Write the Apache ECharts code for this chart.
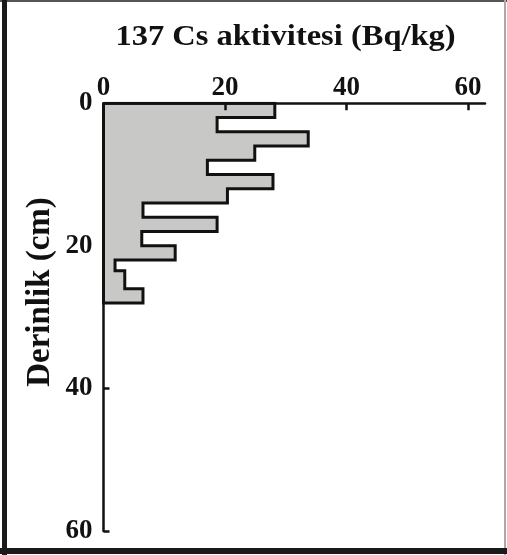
<!DOCTYPE html>
<html>
<head>
<meta charset="utf-8">
<script src="https://cdn.jsdelivr.net/npm/echarts@6/dist/echarts.min.js"></script>
<style>
html,body{margin:0;padding:0;background:#fff;}
#chart{width:507px;height:555px;}
</style>
</head>
<body>
<div id="chart"></div>
<script>
// Depth intervals (cm) and 137Cs activity (Bq/kg)
var depthTop    = [0, 2, 4, 6, 8, 10, 12, 14, 16, 18, 20, 22, 23.5, 26];
var depthBottom = [2, 4, 6, 8, 10, 12, 14, 16, 18, 20, 22, 23.5, 26, 28];
var activity    = [28.2, 18.7, 33.7, 24.9, 17.1, 27.9, 20.4, 6.5, 18.7, 6.3, 11.8, 1.9, 3.5, 6.5];
var xTicks = [0, 20, 40, 60];
var yTicks = [0, 20, 40, 60];
var titleText = '137 Cs aktivitesi (Bq/kg)';
var yName = 'Derinlik (cm)';

var fillData = depthTop.map(function (t, i) { return [activity[i], t, depthBottom[i]]; });
var outline = [[0, depthTop[0]]];
depthTop.forEach(function (t, i) {
  outline.push([activity[i], t]);
  outline.push([activity[i], depthBottom[i]]);
});
outline.push([0, depthBottom[depthBottom.length - 1]]);
outline.push([0, depthTop[0]]);

var FONT = '"Liberation Serif", "Times New Roman", serif';
var chart = echarts.init(document.getElementById('chart'), null, {renderer: 'canvas'});
chart.setOption({
  animation: false,
  backgroundColor: '#ffffff',
  grid: {left: 103.5, top: 103.3, width: 381.5, height: 427.7, containLabel: false},
  xAxis: {
    type: 'value', position: 'top', min: 0, max: 62.8, z: 10,
    axisLine: {lineStyle: {color: '#111', width: 2.5}},
    axisTick: {inside: true, length: 7, lineStyle: {color: '#111', width: 2.5}, customValues: xTicks},
    axisLabel: {customValues: xTicks, fontFamily: FONT, fontWeight: 'bold', fontSize: 27, color: '#111', margin: 2},
    splitLine: {show: false}
  },
  yAxis: {
    type: 'value', inverse: true, min: 0, max: 60, interval: 20,
    axisLine: {lineStyle: {color: '#111', width: 2.5}},
    axisTick: {inside: true, length: 6, lineStyle: {color: '#111', width: 2.5}},
    axisLabel: {fontFamily: FONT, fontWeight: 'bold', fontSize: 27, color: '#111', margin: 11},
    splitLine: {show: false}
  },
  graphic: [
    {type: 'rect', shape: {x: 0, y: 0, width: 507, height: 2}, style: {fill: '#555'}, silent: true},
    {type: 'rect', shape: {x: 504, y: 0, width: 2, height: 555}, style: {fill: '#aaa'}, silent: true},
    {type: 'rect', shape: {x: 2, y: 0, width: 5, height: 555}, style: {fill: '#1a1a1a'}, silent: true},
    {type: 'rect', shape: {x: 0, y: 548, width: 507, height: 6}, style: {fill: '#1a1a1a'}, silent: true},
    {type: 'text', x: 285.5, y: 38, scaleX: 1.12,
     style: {text: titleText, font: 'bold 29px ' + FONT, fill: '#111', textAlign: 'center', textVerticalAlign: 'middle'}},
    {type: 'text', x: 40, y: 292, rotation: Math.PI / 2,
     style: {text: yName, font: 'bold 33px ' + FONT, fill: '#111', textAlign: 'center', textVerticalAlign: 'middle'}}
  ],
  series: [
    {
      type: 'custom', z: 2,
      data: fillData,
      encode: {x: 0, y: [1, 2]},
      renderItem: function (params, api) {
        var p0 = api.coord([0, api.value(1)]);
        var p1 = api.coord([api.value(0), api.value(2)]);
        return {
          type: 'rect',
          shape: {x: p0[0], y: p0[1], width: p1[0] - p0[0], height: p1[1] - p0[1]},
          style: {fill: '#c8c8c6', stroke: '#c8c8c6', lineWidth: 1}
        };
      }
    },
    {
      type: 'line', z: 3,
      data: outline,
      symbol: 'none',
      lineStyle: {color: '#111', width: 3, join: 'miter'}
    }
  ]
});
</script>
</body>
</html>
